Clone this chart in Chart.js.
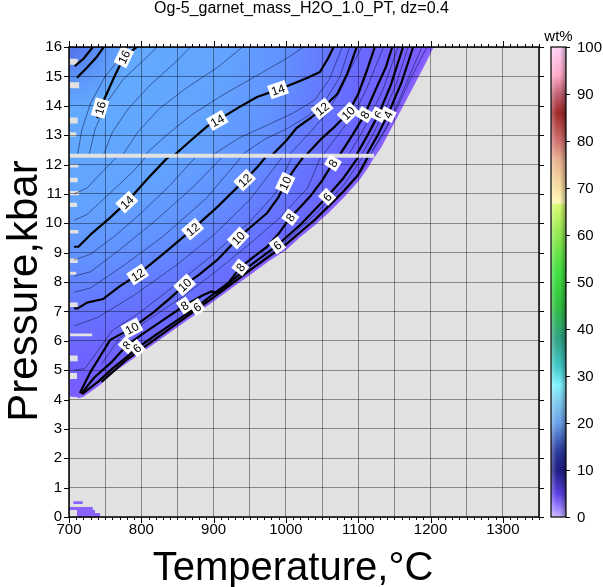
<!DOCTYPE html>
<html>
<head>
<meta charset="utf-8">
<script src="https://cdn.jsdelivr.net/npm/chart.js@4.4.0/dist/chart.umd.min.js"></script>
<style>
  html, body { margin: 0; padding: 0; background: #fff; }
</style>
</head>
<body>
<canvas id="chart" width="603" height="587"></canvas>
<script>
// axis ticks
const tempTicks = [700, 800, 900, 1000, 1100, 1200, 1300];
const pressTicks = [0, 1, 2, 3, 4, 5, 6, 7, 8, 9, 10, 11, 12, 13, 14, 15, 16];
const cbTicks = [0, 10, 20, 30, 40, 50, 60, 70, 80, 90, 100];

// outline of the region with data (T degC, P kbar)
const edge = [[712,4.08],[720,4.15],[740,4.5],[760,4.95],[780,5.3],[800,5.65],[820,6.0],[840,6.35],[860,6.7],[880,7.05],[900,7.4],[925,7.85],[950,8.3],[975,8.75],[1000,9.15],[1020,9.6],[1040,10.0],[1060,10.45],[1080,10.95],[1100,11.5],[1110,11.85],[1120,12.25],[1130,12.6],[1145,13.3],[1160,14.0],[1175,14.7],[1190,15.4],[1202,16]];
// gaps along the low-T side: P top, P bottom, T reached
const leftGaps = [[15.6,15.4,712],[14.8,14.6,714],[13.6,13.4,712],[13.1,12.95,710],[12.0,11.9,713],[11.55,11.4,712],[11.1,10.95,714],[10.7,10.55,711],[9.77,9.65,713],[8.8,8.65,712],[8.35,8.25,710],[7.3,7.15,712],[6.25,6.15,732],[5.5,5.3,712],[4.9,4.7,711]];
const blobA = [[706,0.44],[719,0.44],[719,0.54],[706,0.54],[706,0.44]];
const blobB = [[701,0.34],[733,0.34],[733,0.24],[736,0.24],[736,0.14],[743,0.14],[743,0],[711,0],[711,0.24],[701,0.24],[701,0.34]];
const gapLine = [[700,12.3],[1122,12.3]];

const field = [[701,16]];
leftGaps.forEach(([hi, lo, t]) => field.push([701, hi], [t, hi], [t, lo], [701, lo]));
field.push([701, 4.1]);
edge.forEach(p => field.push(p));
field.push([701, 16]);

// labelled contours (wt%)
const c18 = [[708,15.35],[720,15.6],[733,16]];
const c17 = [[711,14.95],[725,15.3],[738,15.65],[748,16]];
const c16 = [[739,13.58],[743,13.92],[752,14.4],[762,14.95],[776,15.66],[794,16]];
const c14a = [[707,9.2],[713,9.2],[730,9.62],[755,10.15],[780,10.72],[808,11.5],[835,12.2],[838,12.25]];
const c14b = [[847,12.35],[870,12.85],[891,13.3],[905,13.5],[936,13.96],[960,14.3],[989,14.55],[1010,14.75],[1030,14.95],[1047,15.15],[1058,15.6],[1066,16]];
const c12a = [[707,7.1],[712,7.1],[725,7.3],[747,7.42],[770,7.85],[795,8.25],[830,8.95],[871,9.8],[905,10.55],[943,11.47],[960,11.9],[972,12.25]];
const c12b = [[982,12.35],[1000,12.8],[1015,13.25],[1035,13.6],[1050,13.9],[1071,14.4],[1085,15.1],[1098,16]];
const c10a = [[715,4.22],[730,4.95],[745,5.55],[757,6.03],[787,6.43],[816,6.95],[840,7.45],[860,7.9],[880,8.25],[905,8.75],[934,9.5],[955,9.95],[974,10.35],[990,10.9],[999,11.37],[1012,11.85],[1024,12.25]];
const c10b = [[1029,12.35],[1050,12.9],[1068,13.3],[1086,13.75],[1100,14.4],[1112,15.2],[1123,16]];
const c8a = [[717,4.2],[735,4.75],[760,5.3],[780,5.85],[800,6.2],[830,6.7],[860,7.2],[885,7.55],[897,7.68],[905,7.63],[915,7.8],[937,8.5],[955,8.85],[974,9.2],[990,9.65],[1006,10.2],[1020,10.55],[1033,10.9],[1050,11.45],[1065,12.05],[1068,12.25]];
const c8b = [[1075,12.35],[1092,13.0],[1109,13.7],[1125,14.6],[1138,15.3],[1147,16]];
const c6a = [[718,4.18],[740,4.6],[760,5.05],[780,5.45],[794,5.75],[820,6.2],[850,6.7],[877,7.15],[900,7.6],[925,8.05],[950,8.55],[988,9.25],[1020,9.95],[1057,10.9],[1080,11.55],[1100,12.25]];
const c6b = [[1098,12.35],[1113,13.0],[1128,13.7],[1145,14.7],[1162,16]];
const c4a = [[745,4.6],[780,5.36],[840,6.42],[900,7.48],[950,8.4],[1000,9.28],[1040,10.12],[1080,11.1],[1100,11.65],[1113,12.25]];
const c4b = [[1112,12.35],[1127,13.0],[1141,13.7],[1160,14.8],[1176,16]];
const thickLines = [c18, c17, c16, c14a, c14b, c12a, c12b, c10a, c10b, c8a, c8b, c6a, c6b, c4a, c4b];

// thin contours (dz = 0.4), only some of them
const thinLines = [
  [[712,12.35],[718,13.2],[730,14.1],[750,15.0],[770,15.6],[782,16]],
  [[728,12.35],[736,13.2],[752,14.1],[775,14.9],[805,15.6],[822,16]],
  [[748,12.35],[760,13.1],[782,13.9],[812,14.7],[848,15.5],[868,16]],
  [[775,12.35],[795,13.1],[825,13.9],[862,14.6],[905,15.3],[940,16]],
  [[806,12.35],[835,13.0],[870,13.7],[915,14.4],[965,15.1],[1000,15.6],[1025,16]],
  [[900,12.35],[935,12.9],[975,13.35],[1010,13.75],[1040,14.2],[1060,14.9],[1078,16]],
  [[940,12.35],[970,12.85],[1000,13.2],[1030,13.65],[1055,14.2],[1075,15.0],[1088,16]],
  [[1005,12.35],[1030,13.0],[1055,13.7],[1075,14.5],[1090,15.3],[1105,16]],
  [[1052,12.35],[1072,13.0],[1095,13.75],[1112,14.6],[1125,15.4],[1135,16]],
  [[1087,12.35],[1103,13.0],[1118,13.7],[1135,14.6],[1155,16]],
  [[1105,12.35],[1120,13.0],[1134,13.7],[1152,14.7],[1169,16]],
  [[1117,12.35],[1133,13.0],[1148,13.7],[1167,14.8],[1188,16]],
  [[1120,12.5],[1138,13.2],[1153,13.9],[1172,14.9],[1195,16]],
  [[707,11.0],[725,11.2],[748,11.8],[766,12.25]],
  [[707,10.1],[725,10.3],[760,11.1],[790,11.8],[806,12.25]],
  [[707,8.75],[730,8.95],[765,9.6],[800,10.35],[840,11.3],[875,12.25]],
  [[707,8.2],[730,8.35],[770,9.1],[820,10.1],[870,11.2],[912,12.25]],
  [[707,7.65],[730,7.8],[775,8.55],[830,9.55],[890,10.85],[938,12.25]],
  [[707,6.5],[740,6.8],[790,7.55],[850,8.6],[900,9.6],[950,10.8],[995,12.25]],
  [[707,5.0],[722,5.05],[760,6.35],[800,7.0],[850,7.95],[900,8.95],[950,10.05],[985,11.0],[1008,12.25]],
  [[745,5.2],[770,6.1],[800,6.55],[860,7.55],[900,8.3],[950,9.3],[990,10.15],[1030,11.2],[1048,12.25]],
  [[760,5.05],[800,5.8],[860,6.85],[900,7.55],[960,8.6],[1000,9.4],[1040,10.3],[1080,11.3],[1106,12.25]],
  [[740,4.55],[780,5.33],[840,6.39],[900,7.44],[950,8.35],[1000,9.22],[1040,10.06],[1080,11.02],[1100,11.57],[1117,12.25]]
];

// contour labels: text, T, P, contour
const contourLabels = [
  ['16', 743, 13.92, c16], ['16', 776, 15.66, c16],
  ['14', 780, 10.72, c14a], ['14', 905, 13.5, c14b], ['14', 989, 14.55, c14b],
  ['12', 795, 8.25, c12a], ['12', 871, 9.8, c12a], ['12', 943, 11.47, c12a], ['12', 1050, 13.9, c12b],
  ['10', 787, 6.43, c10a], ['10', 860, 7.9, c10a], ['10', 934, 9.5, c10a], ['10', 999, 11.37, c10a], ['10', 1086, 13.75, c10b],
  ['8', 780, 5.85, c8a], ['8', 860, 7.2, c8a], ['8', 937, 8.5, c8a], ['8', 1006, 10.2, c8a], ['8', 1065, 12.05, c8a], ['8', 1109, 13.7, c8b],
  ['6', 794, 5.75, c6a], ['6', 877, 7.15, c6a], ['6', 988, 9.25, c6a], ['6', 1057, 10.9, c6a], ['6', 1128, 13.7, c6b],
  ['4', 1141, 13.7, c4b]
];

const FONT = '"Liberation Sans", Arial, Helvetica, sans-serif';
Chart.defaults.font.family = FONT;
Chart.defaults.color = '#000';

const toXY = arr => arr.map(p => ({ x: p[0], y: p[1] }));

function px(chart, p) {
  return [chart.scales.x.getPixelForValue(p[0]), chart.scales.y.getPixelForValue(p[1])];
}

// colour of the wt% field, lighter far from the solidus edge
function fieldGradient(chart) {
  const c = px(chart, [690, 16.3]);
  const g = chart.ctx.createRadialGradient(c[0], c[1], 0, c[0], c[1], 370);
  g.addColorStop(0, 'rgb(80,100,230)');
  g.addColorStop(0.12, 'rgb(92,150,250)');
  g.addColorStop(0.2, 'rgb(98,170,255)');
  g.addColorStop(0.45, 'rgb(98,163,255)');
  g.addColorStop(0.6, 'rgb(98,146,255)');
  g.addColorStop(0.7, 'rgb(100,124,255)');
  g.addColorStop(0.8, 'rgb(105,106,255)');
  g.addColorStop(0.9, 'rgb(112,96,255)');
  g.addColorStop(1, 'rgb(128,92,255)');
  return g;
}

const datasets = [];
datasets.push({ data: toXY(gapLine), borderColor: '#e1e1e1', borderWidth: 4, order: 0 });
thickLines.forEach(l => datasets.push({ data: toXY(l), borderColor: '#000', borderWidth: 2.2, order: 1 }));
datasets.push({ data: toXY(edge), borderColor: '#8a62ff', borderWidth: 3, order: 2 });
thinLines.forEach(l => datasets.push({ data: toXY(l), borderColor: 'rgba(15,15,60,0.75)', borderWidth: 0.7, order: 3 }));
datasets.push({ data: toXY(blobA), borderWidth: 0, fill: 'shape', backgroundColor: '#8a62ff', order: 4 });
datasets.push({ data: toXY(blobB), borderWidth: 0, fill: 'shape', backgroundColor: '#8a62ff', order: 4 });
datasets.push({ data: toXY(field), borderWidth: 0, fill: 'shape', backgroundColor: '#64a0ff', order: 5, isField: true });

const decor = {
  id: 'decor',
  beforeDraw(chart) {
    const c = chart.ctx, a = chart.chartArea;
    c.save();
    c.fillStyle = '#fff';
    c.fillRect(0, 0, chart.width, chart.height);
    c.fillStyle = '#e1e1e1';
    c.fillRect(a.left, a.top, a.right - a.left, a.bottom - a.top);
    c.restore();
  },
  beforeDatasetsDraw(chart) {
    chart.data.datasets.forEach((ds, i) => {
      if (!ds.isField) return;
      const meta = chart.getDatasetMeta(i);
      if (meta.dataset) meta.dataset.options.backgroundColor = fieldGradient(chart);
    });
  },
  afterDraw(chart) {
    const c = chart.ctx, a = chart.chartArea;
    const xs = chart.scales.x, ys = chart.scales.y;
    c.save();

    // contour labels
    c.font = '12px ' + FONT;
    c.textAlign = 'center';
    c.textBaseline = 'middle';
    contourLabels.forEach(([txt, T, P, line]) => {
      const p = px(chart, [T, P]);
      const pts = line.map(q => px(chart, q));
      let best = 0, bd = Infinity;
      for (let i = 0; i < pts.length - 1; i++) {
        const [x1, y1] = pts[i], [x2, y2] = pts[i + 1];
        const dx = x2 - x1, dy = y2 - y1;
        let t = ((p[0] - x1) * dx + (p[1] - y1) * dy) / (dx * dx + dy * dy || 1);
        t = Math.max(0, Math.min(1, t));
        const d = Math.hypot(x1 + t * dx - p[0], y1 + t * dy - p[1]);
        if (d < bd) { bd = d; best = i; }
      }
      let ang = Math.atan2(pts[best + 1][1] - pts[best][1], pts[best + 1][0] - pts[best][0]);
      if (ang > Math.PI / 2) ang -= Math.PI;
      if (ang < -Math.PI / 2) ang += Math.PI;
      c.save();
      c.translate(p[0], p[1]);
      c.rotate(ang);
      const w = c.measureText(txt).width + 5;
      c.fillStyle = '#fff';
      c.fillRect(-w / 2, -7, w, 14);
      c.fillStyle = '#000';
      c.fillText(txt, 0, 1);
      c.restore();
    });

    // frame and outward ticks
    c.strokeStyle = '#000';
    c.lineWidth = 1.5;
    c.strokeRect(a.left, a.top, a.right - a.left, a.bottom - a.top);
    c.lineWidth = 1;
    c.beginPath();
    for (let t = xs.min; t <= xs.max; t += 10) {
      const x = Math.round(xs.getPixelForValue(t)) + 0.5;
      const len = t % 100 === 0 ? 6 : 3;
      c.moveTo(x, a.bottom); c.lineTo(x, a.bottom + len);
      c.moveTo(x, a.top); c.lineTo(x, a.top - len);
    }
    pressTicks.forEach(v => {
      const y = Math.round(ys.getPixelForValue(v)) + 0.5;
      c.moveTo(a.left, y); c.lineTo(a.left - 5, y);
      c.moveTo(a.right, y); c.lineTo(a.right + 5, y);
    });
    c.stroke();

    // colour bar
    const bx0 = a.right + 12, bx1 = a.right + 27;
    const g = c.createLinearGradient(0, a.bottom, 0, a.top);
    [[0,'#c6b4ff'],[0.02,'#9a80ff'],[0.05,'#5a40e0'],[0.1,'#1c1c80'],[0.14,'#2a3a9c'],[0.2,'#6aa0e8'],
     [0.25,'#80d0f0'],[0.28,'#80f4ff'],[0.32,'#40c8c8'],[0.38,'#30a080'],[0.45,'#30c040'],[0.52,'#40e040'],
     [0.6,'#90e850'],[0.665,'#d8f870'],[0.668,'#fff8b8'],[0.7,'#f8e0a0'],[0.76,'#e8b090'],[0.8,'#d07070'],
     [0.86,'#a02828'],[0.9,'#c06070'],[0.94,'#ffa8c8'],[1,'#ffd0f8']].forEach(s => g.addColorStop(s[0], s[1]));
    c.fillStyle = g;
    c.fillRect(bx0, a.top, bx1 - bx0, a.bottom - a.top);
    const sh = c.createLinearGradient(bx0, 0, bx1, 0);
    sh.addColorStop(0, 'rgba(255,255,255,0.3)');
    sh.addColorStop(0.4, 'rgba(255,255,255,0)');
    sh.addColorStop(0.6, 'rgba(0,0,0,0)');
    sh.addColorStop(1, 'rgba(0,0,0,0.35)');
    c.fillStyle = sh;
    c.fillRect(bx0, a.top, bx1 - bx0, a.bottom - a.top);
    c.strokeStyle = '#000';
    c.lineWidth = 1.2;
    c.strokeRect(bx0, a.top, bx1 - bx0, a.bottom - a.top);
    c.font = '15px ' + FONT;
    c.textAlign = 'left';
    c.fillStyle = '#000';
    c.lineWidth = 1;
    c.beginPath();
    cbTicks.forEach(v => {
      const y = Math.round(a.bottom - v / 100 * (a.bottom - a.top)) + 0.5;
      c.moveTo(bx1, y); c.lineTo(bx1 + 4, y);
      c.fillText(String(v), bx1 + 11, y);
    });
    c.stroke();
    c.textAlign = 'center';
    c.fillText('wt%', (bx0 + bx1) / 2, a.top - 10);

    // title
    c.font = '16px ' + FONT;
    c.fillText('Og-5_garnet_mass_H2O_1.0_PT, dz=0.4', chart.width / 2, 9);

    // axis titles
    c.textBaseline = 'alphabetic';
    c.font = '40px ' + FONT;
    c.fillText('Temperature,°C', (a.left + a.right) / 2 - 11, 580);
    c.save();
    c.translate(37, (a.top + a.bottom) / 2 + 9);
    c.rotate(-Math.PI / 2);
    c.font = '42px ' + FONT;
    c.fillText('Pressure,kbar', 0, 0);
    c.restore();
    c.restore();
  }
};

new Chart(document.getElementById('chart'), {
  type: 'line',
  data: { datasets },
  plugins: [decor],
  options: {
    responsive: false,
    animation: false,
    events: [],
    devicePixelRatio: 1,
    layout: { padding: { top: 47, right: 64, left: 0, bottom: 0 } },
    elements: { point: { radius: 0 }, line: { tension: 0, fill: false, borderJoinStyle: 'round' } },
    plugins: { legend: { display: false }, tooltip: { enabled: false }, title: { display: false } },
    scales: {
      x: {
        type: 'linear', min: 700, max: 1350,
        afterFit: s => { s.height = 70; },
        ticks: {
          stepSize: 50, padding: 4, font: { size: 15 }, maxRotation: 0, autoSkip: false,
          callback: v => (tempTicks.includes(v) ? String(v) : '')
        },
        grid: { z: 1, color: 'rgba(0,0,0,0.4)', lineWidth: 1, drawTicks: false },
        border: { display: false },
        title: { display: false }
      },
      y: {
        type: 'linear', min: 0, max: 16,
        afterFit: s => { s.width = 69; },
        ticks: { stepSize: 1, padding: 7, font: { size: 15 }, autoSkip: false,
          callback: v => (pressTicks.includes(v) ? String(v) : '') },
        grid: { z: 1, color: 'rgba(0,0,0,0.4)', lineWidth: 1, drawTicks: false },
        border: { display: false },
        title: { display: false }
      }
    }
  }
});
</script>
</body>
</html>
